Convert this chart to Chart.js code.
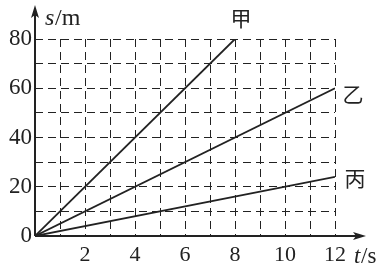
<!DOCTYPE html>
<html lang="zh">
<head>
  <meta charset="UTF-8" />
  <title>s-t 图像</title>
  <script src="https://cdn.jsdelivr.net/npm/chart.js"></script>
  <style>
    body { margin: 0; background: #fff; }
    .wrap { width: 385px; height: 267px; position: relative; }
  </style>
</head>
<body>
  <div class="wrap"><canvas id="stChart"></canvas></div>

  <script>
    // data: t in s, s in m
    const jiaT = [0, 8];
    const jiaS = [0, 80];
    const yiT = [0, 12];
    const yiS = [0, 60];
    const bingT = [0, 12];
    const bingS = [0, 24];
    const lineNames = ['甲', '乙', '丙'];
    const xTickLabels = [2, 4, 6, 8, 10, 12];
    const yTickLabels = [0, 20, 40, 60, 80];

    const toPoints = (ts, ss) => ts.map((t, i) => ({ x: t, y: ss[i] }));
    const ink = '#222';
    const serif = "'Liberation Serif', 'DejaVu Serif', serif";

    // axes with arrows, axis titles and line names
    const decor = {
      id: 'decor',
      afterDraw(chart) {
        const ctx = chart.ctx;
        const xs = chart.scales.x, ys = chart.scales.y;
        const x0 = xs.getPixelForValue(0), y0 = ys.getPixelForValue(0);
        ctx.save();
        ctx.strokeStyle = ink;
        ctx.fillStyle = ink;
        ctx.lineWidth = 2;
        // x axis
        ctx.beginPath();
        ctx.moveTo(x0, y0);
        ctx.lineTo(358, y0);
        ctx.stroke();
        ctx.beginPath();
        ctx.moveTo(366, y0);
        ctx.lineTo(353, y0 - 4);
        ctx.lineTo(356, y0);
        ctx.lineTo(353, y0 + 4);
        ctx.closePath();
        ctx.fill();
        // y axis
        ctx.beginPath();
        ctx.moveTo(x0, y0);
        ctx.lineTo(x0, 14);
        ctx.stroke();
        ctx.beginPath();
        ctx.moveTo(x0, 5);
        ctx.lineTo(x0 - 4, 18);
        ctx.lineTo(x0, 15);
        ctx.lineTo(x0 + 4, 18);
        ctx.closePath();
        ctx.fill();

        // axis titles
        ctx.textBaseline = 'alphabetic';
        ctx.textAlign = 'left';
        ctx.font = 'italic 24px ' + serif;
        ctx.fillText('s', 45, 25);
        ctx.font = '24px ' + serif;
        ctx.fillText('/m', 55, 25);
        ctx.font = 'italic 23px ' + serif;
        ctx.fillText('t', 354, 263);
        ctx.font = '23px ' + serif;
        ctx.fillText('/s', 361, 263);

        // line names next to line ends
        ctx.font = "21px 'Noto Sans CJK SC'";
        ctx.textBaseline = 'middle';
        ctx.textAlign = 'center';
        const ends = [[jiaT, jiaS, 6, -21], [yiT, yiS, 18, 6], [bingT, bingS, 20, 1]];
        ends.forEach(([ts, ss, dx, dy], i) => {
          const px = xs.getPixelForValue(ts[ts.length - 1]) + dx;
          const py = ys.getPixelForValue(ss[ss.length - 1]) + dy;
          ctx.fillText(lineNames[i], px, py);
        });
        ctx.restore();
      }
    };

    const lineStyle = {
      borderColor: ink,
      borderWidth: 1.8,
      pointRadius: 0,
      fill: false,
      tension: 0
    };

    new Chart(document.getElementById('stChart'), {
      type: 'line',
      data: {
        datasets: [
          { label: lineNames[0], data: toPoints(jiaT, jiaS), ...lineStyle },
          { label: lineNames[1], data: toPoints(yiT, yiS), ...lineStyle },
          { label: lineNames[2], data: toPoints(bingT, bingS), ...lineStyle }
        ]
      },
      options: {
        responsive: true,
        maintainAspectRatio: false,
        animation: false,
        layout: { padding: { top: 39, right: 50, left: 0, bottom: 0 } },
        plugins: { legend: { display: false }, tooltip: { enabled: false } },
        scales: {
          x: {
            type: 'linear',
            min: 0,
            max: 12,
            afterFit: (s) => { s.height = 31; },
            border: { display: false, dash: [8, 5] },
            grid: {
              color: ink,
              lineWidth: 1,
              drawTicks: false
            },
            ticks: {
              stepSize: 1,
              autoSkip: false,
              maxRotation: 0,
              padding: 6,
              color: ink,
              font: { family: serif, size: 22 },
              callback: (v) => xTickLabels.includes(v) ? String(v) : ''
            }
          },
          y: {
            min: 0,
            max: 80,
            afterFit: (s) => { s.width = 35; },
            border: { display: false, dash: [8, 5] },
            grid: {
              color: ink,
              lineWidth: 1,
              drawTicks: false
            },
            ticks: {
              stepSize: 10,
              autoSkip: false,
              padding: 3,
              color: ink,
              font: { family: serif, size: 23 },
              callback: (v) => yTickLabels.includes(v) ? String(v) : ''
            }
          }
        }
      },
      plugins: [decor]
    });
  </script>
</body>
</html>
